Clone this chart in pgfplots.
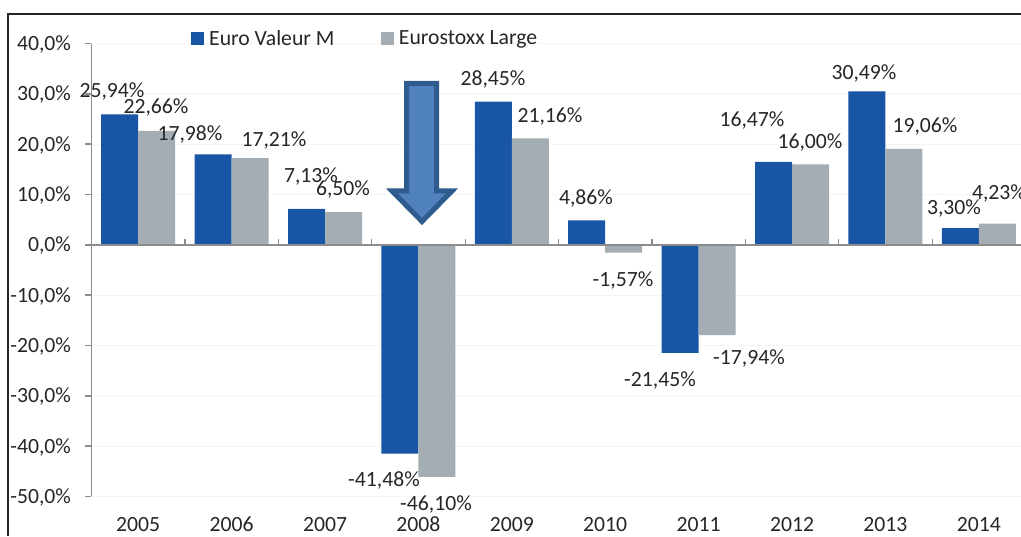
\documentclass[border=0pt]{standalone}
\usepackage{pgfplots}
\pgfplotsset{compat=1.18}
\usepackage{fontspec}
\setmainfont{Carlito}
\definecolor{bleu}{HTML}{1855A5}
\definecolor{gris}{HTML}{A3ADB3}
\definecolor{axe}{HTML}{8C8C8C}
\definecolor{txt}{HTML}{262626}
\newcommand\lab[3]{\node[anchor=base,text=txt,font=\fontsize{21.7}{23}\selectfont,inner sep=0pt] at (#1,{536-#2-7.2}) {#3};}
\begin{document}
\begin{tikzpicture}[x=1pt,y=1pt]
\useasboundingbox (0,0) rectangle (1021,536);
\begin{scope}
\clip (0,0) rectangle (1021,536);
\begin{axis}[
  at={(91.5pt,39.5pt)}, anchor=south west,
  scale only axis, width=934pt, height=453pt,
  xmin=-0.5, xmax=9.5, ymin=-50, ymax=40,
  axis x line=bottom, axis y line=left,
  x axis line style={draw=none,-}, y axis line style={draw=axe,line width=1.5pt,-},
  xtick={0,...,9},
  xticklabels={2005,2006,2007,2008,2009,2010,2011,2012,2013,2014},
  x tick style={draw=none},
  ytick={-50,-40,-30,-20,-10,0,10,20,30,40},
  yticklabels={{-50,0\%},{-40,0\%},{-30,0\%},{-20,0\%},{-10,0\%},{0,0\%},{10,0\%},{20,0\%},{30,0\%},{40,0\%}},
  y tick style={draw=axe,line width=1.5pt},
  tick align=outside, major tick length=6pt,
  tick label style={font=\fontsize{21.7}{23}\selectfont,text=txt},
  x tick label style={yshift=-11pt},
  y tick label style={xshift=-11pt,yshift=-1pt},
  ymajorgrids, grid style={draw=black!4,line width=0.7pt},
  clip=false,
  legend columns=2,
  legend style={at={(99.5pt,453pt)},anchor=north west,yshift=15.5pt,draw=none,fill=none,
    font=\fontsize{21.7}{23}\selectfont,text=txt,inner sep=0pt,
    /tikz/every odd column/.append style={column sep=3pt},
    /tikz/every even column/.append style={column sep=44.5pt}},
  legend cell align=left,
  area legend,
]
\addplot[ybar,bar width=37pt,bar shift=-18.5pt,fill=bleu,draw=none,
  legend image code/.code={\fill[bleu] (0,-6.5pt) rectangle (13pt,6.5pt);}] coordinates {
  (0,25.94)(1,17.98)(2,7.13)(3,-41.48)(4,28.45)(5,4.86)(6,-21.45)(7,16.47)(8,30.49)(9,3.30)};
\addlegendentry{Euro Valeur M}
\addplot[ybar,bar width=37pt,bar shift=18.5pt,fill=gris,draw=none,
  legend image code/.code={\fill[gris] (0,-6.5pt) rectangle (13pt,6.5pt);}] coordinates {
  (0,22.66)(1,17.21)(2,6.50)(3,-46.10)(4,21.16)(5,-1.57)(6,-17.94)(7,16.00)(8,19.06)(9,4.23)};
\addlegendentry{Eurostoxx Large}
\addplot[ycomb,draw=axe,line width=1.2pt,mark=none,forget plot] coordinates {
  (0.5,1.2)(1.5,1.2)(2.5,1.2)(3.5,1.2)(4.5,1.2)(5.5,1.2)(6.5,1.2)(7.5,1.2)(8.5,1.2)(9.5,1.2)};
\addplot[draw=axe,line width=1.8pt,mark=none,forget plot] coordinates {(-0.5,0)(9.5,0)};
\end{axis}
\end{scope}
% cadre
\draw[line width=1.6pt,draw=black!85] (8,0) -- (8,522) -- (1021,522);
% fleche
\draw[fill={rgb,255:red,79;green,129;blue,189},draw={rgb,255:red,47;green,92;blue,143},line width=5pt,miter limit=10]
  (406.5,{536-83.5}) -- (436.5,{536-83.5}) -- (436.5,{536-191}) -- (452,{536-191}) -- (422,{536-221.5}) -- (392,{536-191}) -- (406.5,{536-191}) -- cycle;
% etiquettes
\lab{112}{90}{25,94\%}
\lab{156}{106}{22,66\%}
\lab{190}{133}{17,98\%}
\lab{274}{139}{17,21\%}
\lab{311}{175}{7,13\%}
\lab{343}{188}{6,50\%}
\lab{384}{479}{-41,48\%}
\lab{436}{503}{-46,10\%}
\lab{493}{78}{28,45\%}
\lab{550}{115}{21,16\%}
\lab{586}{197}{4,86\%}
\lab{623}{279}{-1,57\%}
\lab{660}{379}{-21,45\%}
\lab{749}{357}{-17,94\%}
\lab{752}{119}{16,47\%}
\lab{810}{141}{16,00\%}
\lab{864}{72}{30,49\%}
\lab{925}{125}{19,06\%}
\lab{954}{207}{3,30\%}
\lab{999}{192}{4,23\%}
\end{tikzpicture}
\end{document}
